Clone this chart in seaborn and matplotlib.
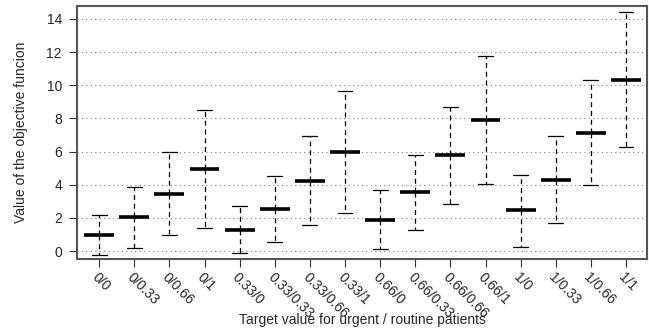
import seaborn as sns
import matplotlib.pyplot as plt
import pandas as pd

sns.set_style('white')
plt.rcParams['font.family'] = ['Liberation Sans', 'DejaVu Sans']

targets = ['0/0', '0/0.33', '0/0.66', '0/1',
           '0.33/0', '0.33/0.33', '0.33/0.66', '0.33/1',
           '0.66/0', '0.66/0.33', '0.66/0.66', '0.66/1',
           '1/0', '1/0.33', '1/0.66', '1/1']
lows = [-0.25, 0.2, 0.95, 1.4, -0.1, 0.55, 1.55, 2.3,
        0.1, 1.25, 2.85, 4.05, 0.25, 1.7, 4.0, 6.25]
medians = [1.0, 2.05, 3.45, 4.95, 1.3, 2.55, 4.25, 6.0,
           1.9, 3.55, 5.8, 7.9, 2.45, 4.3, 7.1, 10.3]
highs = [2.2, 3.85, 5.95, 8.5, 2.7, 4.55, 6.95, 9.65,
         3.7, 5.8, 8.7, 11.75, 4.6, 6.95, 10.3, 14.4]

# box collapses onto the median: only whiskers and median are shown
rows = []
for t, lo, md, hi in zip(targets, lows, medians, highs):
    for v in [lo, md, md, md, hi]:
        rows.append({'target': t, 'value': v})
df = pd.DataFrame(rows)

fig, ax = plt.subplots(figsize=(6.49, 3.28), dpi=100)

sns.boxplot(x='target', y='value', data=df, order=targets, whis=(0, 100),
            width=0.85, color='white', linewidth=1, fliersize=0,
            boxprops={'facecolor': 'none', 'edgecolor': 'none'},
            medianprops={'color': 'black', 'linewidth': 2.6},
            whiskerprops={'color': 'black', 'linestyle': (0, (4, 3)), 'linewidth': 0.9},
            capprops={'color': 'black', 'linewidth': 0.9},
            ax=ax)

ax.set_xlim(-0.625, 15.6)
ax.set_ylim(-0.485, 14.79)
ax.set_yticks(range(0, 15, 2))
ax.yaxis.grid(True, linestyle=(0, (1, 3)), color='gray', linewidth=0.8)
ax.set_axisbelow(True)

ax.set_xticks(range(len(targets)))
ax.set_xticklabels(targets, rotation=-45, ha='left', va='top',
                   rotation_mode='anchor', fontsize=10)
ax.tick_params(axis='both', direction='out', length=6, width=0.8,
               color='#333333', left=True, bottom=True)
ax.tick_params(axis='x', pad=2)
ax.tick_params(axis='y', labelsize=10, pad=5)

for s in ax.spines.values():
    s.set_color('#555555')
    s.set_linewidth(1.5)

ax.set_xlabel('Target value for urgent / routine patients', fontsize=10)
ax.xaxis.set_label_coords(0.5, -0.212)
ax.set_ylabel('Value of the objective funcion', fontsize=10)
ax.yaxis.set_label_coords(-0.086, 0.5)

fig.subplots_adjust(left=0.119, right=0.997, top=0.982, bottom=0.21)
fig.savefig('out.png', dpi=100)
